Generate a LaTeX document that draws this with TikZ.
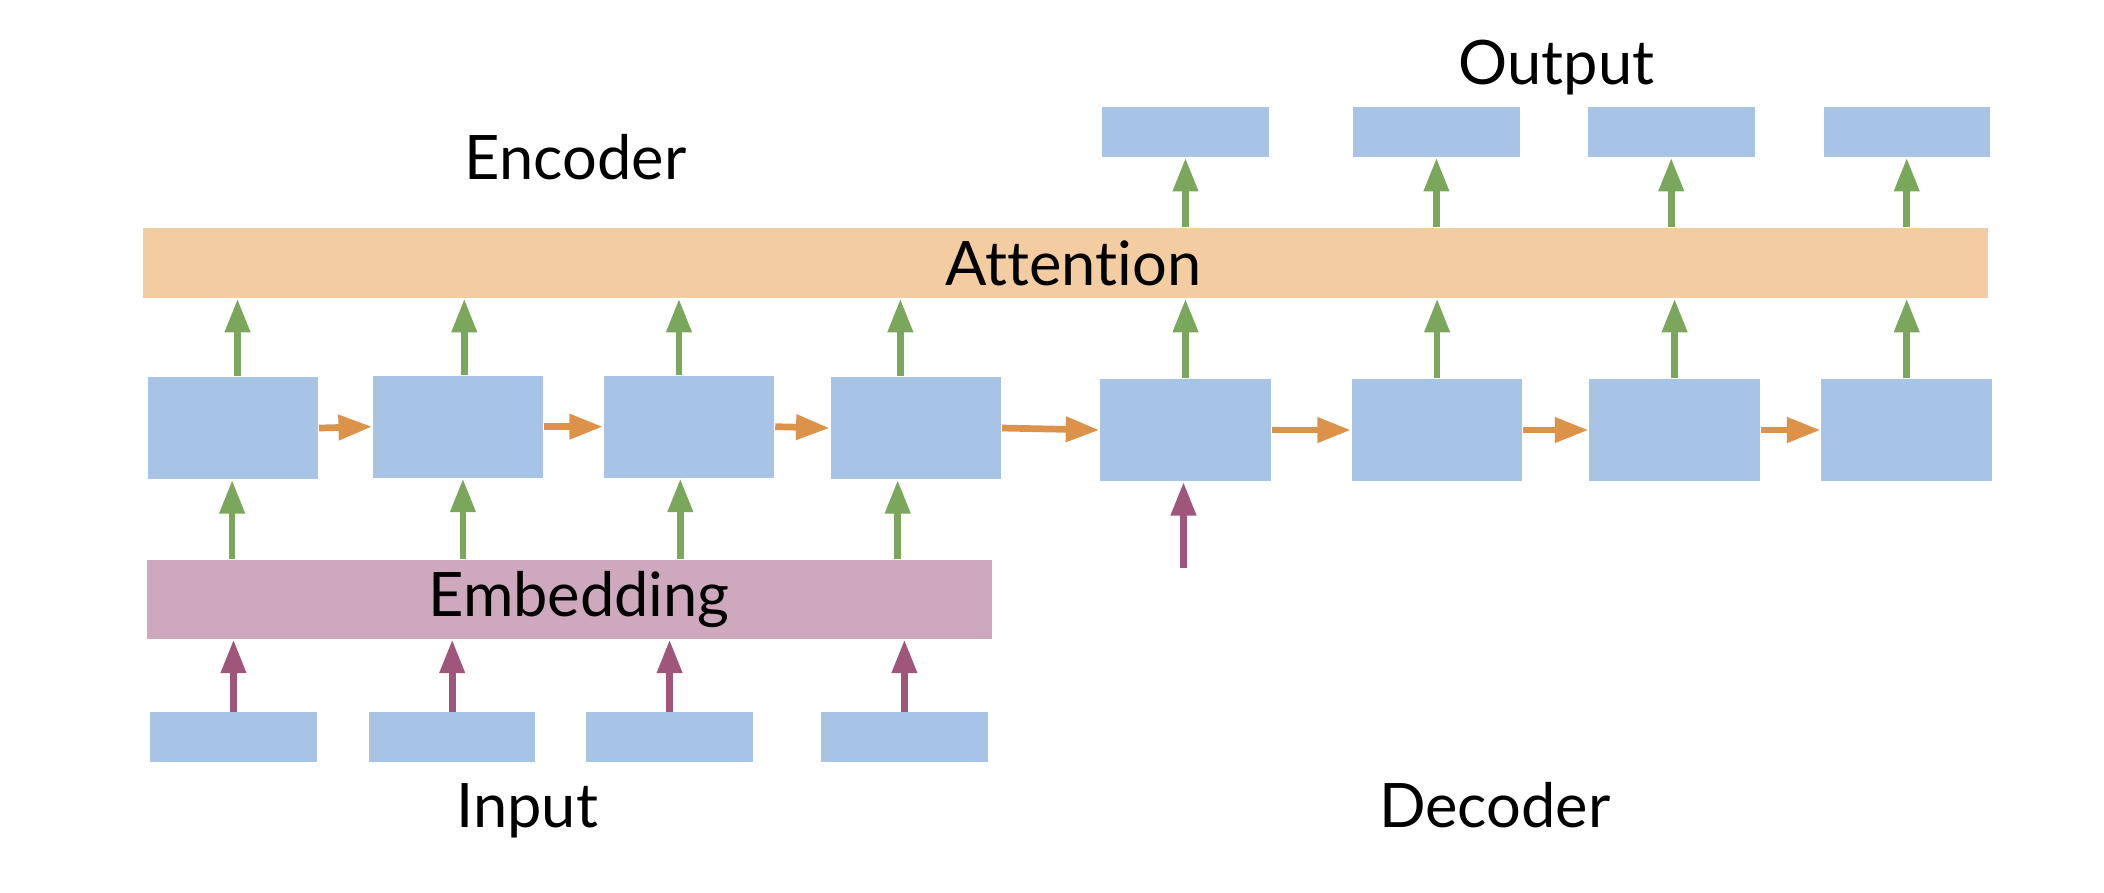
\documentclass[tikz,border=0pt]{standalone}
\usepackage{fontspec}
\setmainfont{Lato}[Ligatures=NoCommon]
\usepackage{xcolor}
\usetikzlibrary{arrows.meta}

\definecolor{cellblue}{RGB}{167,196,230}
\definecolor{attnorange}{RGB}{243,204,161}
\definecolor{embpink}{RGB}{206,168,189}
\definecolor{arrgreen}{RGB}{122,167,91}
\definecolor{arrorange}{RGB}{220,147,73}
\definecolor{arrpurple}{RGB}{160,86,122}

\tikzset{
	cell/.style = {fill=cellblue, inner sep=0pt, minimum width=1.27cm, minimum height=0.76cm},
	token/.style = {fill=cellblue, inner sep=0pt, minimum width=1.24cm, minimum height=0.37cm},
	bar/.style = {inner sep=0pt, font=\fontsize{13}{15}\selectfont},
	caption/.style = {anchor=base, inner sep=0pt, font=\fontsize{13}{15}\selectfont},
	tip/.style = {-{Triangle[length=0.25cm, width=0.18cm]}, line width=0.05cm},
	garrow/.style = {tip, draw=arrgreen},
	oarrow/.style = {tip, draw=arrorange},
	parrow/.style = {tip, draw=arrpurple}
}

\begin{document}
\begin{tikzpicture}[x=0.01cm, y=-0.01cm]
		\useasboundingbox (0,0) rectangle (1568,665);
		
		% bars
		\node [bar, fill=attnorange, minimum width=13.74cm, minimum height=0.52cm] (att) at (794,196) {\hspace{0.12cm}Attention};
		\node [bar, fill=embpink, minimum width=6.29cm, minimum height=0.59cm] (emb) at (424.5,446.5) {\hspace{0.14cm}Embedding};
		
		% encoder, decoder cells
		\node [cell] (enc1) at (173.5,319) {};
		\node [cell] (enc2) at (341.5,318) {};
		\node [cell] (enc3) at (513.5,318) {};
		\node [cell] (enc4) at (682.5,319) {};
		\node [cell] (dec1) at (883.5,320.5) {};
		\node [cell] (dec2) at (1071,320.5) {};
		\node [cell] (dec3) at (1248,320.5) {};
		\node [cell] (dec4) at (1421,320.5) {};
		
		% tokens
		\node [token] (in1) at (174,549.5) {};
		\node [token] (in2) at (337,549.5) {};
		\node [token] (in3) at (499,549.5) {};
		\node [token] (in4) at (674,549.5) {};
		\node [token] (out1) at (883.5,98.5) {};
		\node [token] (out2) at (1070.5,98.5) {};
		\node [token] (out3) at (1245.5,98.5) {};
		\node [token] (out4) at (1421,98.5) {};
		
		% captions
		\node [caption] (enclabel) at (429,134) {Encoder};
		\node [caption] (outlabel) at (1160,63) {Output};
		\node [caption] (inlabel) at (393,617) {Input};
		\node [caption] (declabel) at (1114,617) {Decoder};
		
		% input -> embedding -> encoder -> attention
		\foreach \n/\xa/\xb in {1/173/177, 2/345/346, 3/507/506, 4/669/671}
		{
			\draw [parrow] (in\n.north) -- (in\n.north |- emb.south);
			\draw [garrow] (\xa,0 |- emb.north) -- (\xa,0 |- enc\n.south);
			\draw [garrow] (\xb,0 |- enc\n.north) -- (\xb,0 |- att.south);
		}
		
		% decoder -> attention -> output
		\foreach \n in {1,2,3,4}
		{
			\draw [garrow] (dec\n.north) -- (dec\n.north |- att.south);
			\draw [garrow] (out\n.south |- att.north) -- (out\n.south);
		}
		
		\coordinate (decin) at (882,423);
		\draw [parrow] (decin) -- (decin |- dec1.south);
		
		% recurrence
		\draw [oarrow] (enc1.east) -- (enc2.west);
		\draw [oarrow] (enc2.east) -- (enc3.west);
		\draw [oarrow] (enc3.east) -- (enc4.west);
		\draw [oarrow] (enc4.east) -- (dec1.west);
		\draw [oarrow] (dec1.east) -- (dec2.west);
		\draw [oarrow] (dec2.east) -- (dec3.west);
		\draw [oarrow] (dec3.east) -- (dec4.west);
	\end{tikzpicture}
\end{document}
